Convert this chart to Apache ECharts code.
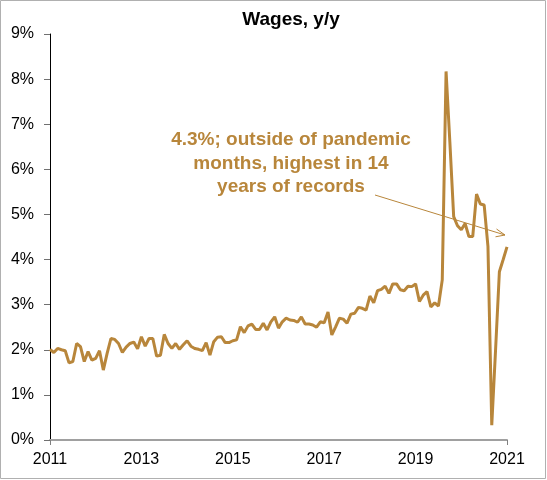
<!DOCTYPE html>
<html>
<head>
<meta charset="utf-8">
<script src="https://cdn.jsdelivr.net/npm/echarts@6/dist/echarts.min.js"></script>
<style>
  html, body { margin: 0; padding: 0; background: #fff; }
  #chart { width: 547px; height: 480px; }
</style>
</head>
<body>
<div id="chart"></div>
<script>
// monthly categories, labelled every second year
const startYear = 2011;
const endYear = 2021;
const months = [];
for (let y = startYear; y <= endYear; y++) {
  for (let m = 1; m <= 12; m++) {
    if (y === endYear && m > 1) break;
    months.push(y + "-" + (m < 10 ? "0" + m : m));
  }
}
const yearLabels = ["2011", "2013", "2015", "2017", "2019", "2021"];

// wages, y/y %
const wages = [
  2.01, 1.94, 2.03, 2.00, 1.98, 1.71, 1.74, 2.14, 2.07, 1.74, 1.96, 1.77,
  1.81, 1.98, 1.55, 1.92, 2.25, 2.23, 2.14, 1.94, 2.06, 2.14, 2.17, 2.02,
  2.29, 2.08, 2.25, 2.25, 1.86, 1.88, 2.34, 2.14, 2.03, 2.14, 2.01, 2.11,
  2.20, 2.08, 2.03, 2.01, 1.98, 2.16, 1.88, 2.18, 2.28, 2.29, 2.16, 2.16,
  2.20, 2.22, 2.51, 2.38, 2.53, 2.57, 2.45, 2.45, 2.59, 2.44, 2.62, 2.73,
  2.48, 2.62, 2.70, 2.66, 2.65, 2.61, 2.73, 2.57, 2.57, 2.55, 2.50, 2.62,
  2.60, 2.84, 2.33, 2.51, 2.70, 2.68, 2.59, 2.79, 2.81, 2.94, 2.92, 2.88,
  3.19, 3.04, 3.31, 3.34, 3.41, 3.25, 3.46, 3.46, 3.33, 3.31, 3.41, 3.40,
  3.46, 3.07, 3.21, 3.29, 2.95, 3.04, 2.97, 3.55, 8.17, 6.60, 4.95, 4.75,
  4.66, 4.80, 4.51, 4.51, 5.45, 5.23, 5.21, 4.29, 0.33, 2.00, 3.73, 4.00,
  4.28
];

const gold = "#B8863B";
const font = "Liberation Sans, Arial, sans-serif";
const titleText = "Wages, y/y";
const noteLines = [
  "4.3%; outside of pandemic",
  "months, highest in 14",
  "years of records"
];

var myChart = echarts.init(document.getElementById("chart"));
let option = {
  animation: false,
  grid: {
    left: 50,
    right: 40,
    top: 34,
    bottom: 40,
  },
  xAxis: {
    type: "category",
    boundaryGap: false,
    data: months,
    axisLine: {
      lineStyle: { color: "#a0a0a0", width: 2 },
    },
    axisTick: {
      show: true,
      length: 5,
      interval: function (index) {
        return index === 0 || index === months.length - 1;
      },
      lineStyle: { color: "#808080" },
    },
    axisLabel: {
      interval: 23,
      margin: 12,
      color: "#000",
      fontFamily: font,
      fontSize: 16,
      formatter: function (v) {
        let y = v.slice(0, 4);
        return yearLabels.indexOf(y) >= 0 ? y : "";
      },
    },
    splitLine: { show: false },
  },
  yAxis: {
    type: "value",
    min: 0,
    max: 9,
    interval: 1,
    axisLine: {
      show: true,
      lineStyle: { color: "#000", width: 1 },
    },
    axisTick: {
      show: true,
      length: 6,
      lineStyle: { color: "#707070" },
    },
    axisLabel: {
      margin: 16,
      color: "#000",
      fontFamily: font,
      fontSize: 16,
      formatter: "{value}%",
    },
    splitLine: { show: false },
  },
  series: [
    {
      name: titleText,
      type: "line",
      data: wages,
      symbol: "none",
      lineStyle: { color: gold, width: 3 },
      z: 3,
    },
  ],
  graphic: [
    // outer border
    {
      type: "rect",
      shape: { x: 0.5, y: 0.5, width: 545, height: 478 },
      style: { fill: "none", stroke: "#b0b0b0", lineWidth: 1 },
      silent: true,
    },
    // title
    {
      type: "text",
      x: 291,
      y: 20,
      style: {
        text: titleText,
        fill: "#000",
        font: "bold 19px " + font,
        textAlign: "center",
        textVerticalAlign: "middle",
      },
      silent: true,
    },
    // annotation text
    ...noteLines.map((t, i) => ({
      type: "text",
      x: 291,
      y: 140 + i * 23.5,
      style: {
        text: t,
        fill: gold,
        font: "bold 19px " + font,
        textAlign: "center",
        textVerticalAlign: "middle",
      },
      silent: true,
    })),
    // arrow
    {
      type: "line",
      shape: { x1: 375, y1: 195, x2: 505, y2: 235 },
      style: { stroke: gold, lineWidth: 1 },
      silent: true,
    },
    {
      type: "polyline",
      shape: { points: [[496.5, 229], [505, 235], [495.5, 236.8]] },
      style: { stroke: gold, lineWidth: 1, fill: "none" },
      silent: true,
    },
  ],
};
myChart.setOption(option);
</script>
</body>
</html>
